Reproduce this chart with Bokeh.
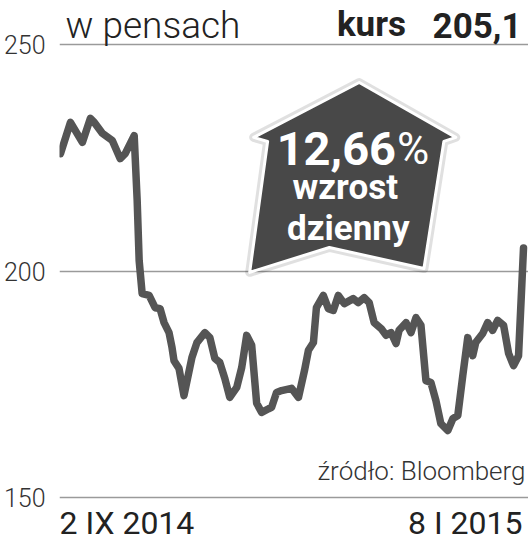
from bokeh.plotting import figure
from bokeh.models import Label, FixedTicker, Range1d
from bokeh.embed import file_html
from bokeh.resources import INLINE
from bokeh.core.properties import value

# --- data (trading-day index, price in pence) ---
day = [0, 2, 4.4, 6, 6.8, 8.4, 10.4, 12, 13, 14.8, 15.4, 15.8, 16.4, 17.8, 19, 20,
       20.8, 21.8, 22.4, 22.8, 23.8, 24.8, 26.4, 27.4, 29, 30, 31, 32, 33, 34, 35.4,
       36.4, 37.4, 38.4, 39.4, 40.4, 41.8, 42.4, 43.4, 44.4, 46.4, 47.8, 49, 49.8,
       50.8, 51.4, 52.8, 53.8, 54.8, 55.8, 57, 58.8, 59.8, 61, 62, 63, 64.4, 65.4,
       66.4, 67.4, 68, 69.4, 70.4, 71.4, 72.4, 73.4, 74.4, 75.4, 76.4, 77.8, 78.8,
       79.8, 80.8, 81.8, 82.8, 83.4, 84.8, 85.8, 86.8, 87.8, 89, 90, 91, 92, 93]
price = [225.9, 232.8, 228.4, 233.7, 232.8, 230.4, 228.8, 224.8, 225.9, 229.9, 215.6,
         202.3, 195.0, 194.6, 191.9, 191.7, 188.6, 186.4, 183.1, 180.2, 178.5, 172.5,
         180.9, 184.2, 186.4, 185.3, 180.7, 179.8, 176.3, 172.1, 174.3, 178.7, 185.8,
         183.6, 170.8, 168.8, 169.6, 169.9, 173.2, 173.6, 174.1, 172.1, 178.0, 182.5,
         184.2, 191.9, 194.6, 191.7, 191.3, 194.6, 192.8, 193.9, 193.0, 194.1, 193.0,
         188.6, 187.3, 185.8, 186.4, 184.0, 186.9, 188.6, 186.4, 189.7, 188.0, 175.8,
         175.4, 171.4, 166.3, 164.8, 167.4, 168.1, 176.9, 185.3, 181.3, 184.2, 186.2,
         188.6, 186.9, 189.1, 188.0, 181.8, 179.1, 181.3, 205.1]
y_ticks = [150, 200, 250]
unit_label = "w pensach"
kurs_label = "kurs"
last_value = "205,1"
date_start = "2 IX 2014"
date_end = "8 I 2015"
source_label = "źródło: Bloomberg"
badge_lines = ["12,66", "%", "wzrost", "dzienny"]

# callout (house-shaped arrow) outline, in chart coordinates
badge_x = [60, 79.4, 77, 73, 54, 38, 41.6, 38.8]
badge_y = [241.6, 229.5, 228.6, 200.55, 205.2, 199.7, 228.6, 229.5]

FONT = "Roboto"
LIGHT = "Roboto Light"
DARK = "#222222"

p = figure(width=528, height=542, output_backend="svg", toolbar_location=None,
           x_range=Range1d(-0.2, 94), y_range=Range1d(140.07, 259.71),
           min_border_left=57, min_border_right=0, min_border_top=0, min_border_bottom=0,
           x_axis_location=None)
p.outline_line_color = None
p.background_fill_color = "white"
p.xgrid.visible = False
p.ygrid.ticker = FixedTicker(ticks=y_ticks)
p.ygrid.grid_line_color = "#9a9a9a"
p.ygrid.grid_line_width = 1.6

ax = p.yaxis[0]
ax.ticker = FixedTicker(ticks=y_ticks)
ax.axis_line_color = None
ax.major_tick_line_color = None
ax.minor_tick_line_color = None
ax.major_tick_out = 0
ax.major_tick_in = 0
ax.major_label_standoff = 14
ax.major_label_text_font = LIGHT
ax.major_label_text_font_size = "25px"
ax.major_label_text_color = "#333333"

# price line
p.line(day, price, line_width=7.5, line_color="#555555", line_join="round", line_cap="round")

# callout shadow + body
p.patch(badge_x, badge_y, fill_color=None, line_color="#000000", line_alpha=0.12, line_width=9,
        line_join="round")
p.patch(badge_x, badge_y, fill_color="#484848", line_color="white", line_width=3,
        line_join="round")

p.text(x=[67.4], y=[227.0], text=[badge_lines[0]], text_font=value(FONT), text_font_style="bold",
       text_font_size="47px", text_color="white", text_align="right", text_baseline="alphabetic")
p.text(x=[67.6], y=[227.0], text=[badge_lines[1]], text_font=value(FONT),
       text_font_size="44px", text_color="white", text_align="left", text_baseline="alphabetic")
p.text(x=[57.2, 57.8], y=[218.5, 209.4], text=badge_lines[2:], text_font=value(FONT),
       text_font_style="bold", text_font_size="35px", text_color="white", text_align="center",
       text_baseline="alphabetic")

# header
p.add_layout(Label(x=1, y=254.3, text=unit_label, text_font=LIGHT, text_font_size="37px",
                   text_color=DARK, text_baseline="alphabetic"))
p.add_layout(Label(x=69.4, y=254.5, text=kurs_label, text_font=FONT, text_font_style="bold",
                   text_font_size="35px", text_color=DARK, text_align="right",
                   text_baseline="alphabetic"))
p.add_layout(Label(x=92.6, y=254.3, text=last_value, text_font=FONT, text_font_style="bold",
                   text_font_size="35px", text_color=DARK, text_align="right",
                   text_baseline="alphabetic"))

# source
p.add_layout(Label(x=93.4, y=155.9, text=source_label, text_font=LIGHT, text_font_size="26px",
                   text_color="#333333", text_align="right", text_baseline="alphabetic"))

# dates
p.add_layout(Label(x=-0.2, y=144.3, text=date_start, text_font=FONT, text_font_size="32px",
                   text_color=DARK, text_align="left", text_baseline="alphabetic"))
p.add_layout(Label(x=92.8, y=144.3, text=date_end, text_font=FONT, text_font_size="32px",
                   text_color=DARK, text_align="right", text_baseline="alphabetic"))

open("out.html", "w").write(file_html(p, INLINE))
